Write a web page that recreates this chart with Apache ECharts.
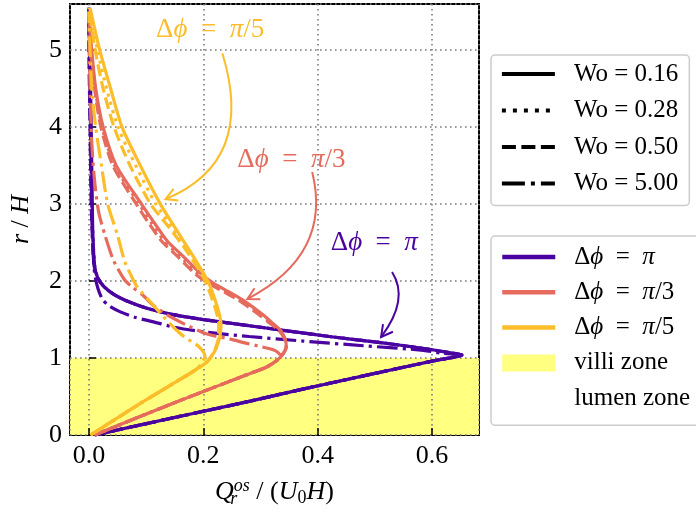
<!DOCTYPE html>
<html><head><meta charset="utf-8">
<script src="https://cdn.jsdelivr.net/npm/echarts@6/dist/echarts.min.js"></script>
<style>html,body{margin:0;padding:0;background:#fff}#c{width:696px;height:513px}</style>
</head><body><div id="c"></div>
<script>
const FONT = '"Liberation Serif","DejaVu Serif",serif';
const FS = 25, FS_TICK = 26, FS_ANN = 27;
const C_PI = '#4a03a0', C_PI3 = '#e56b5d', C_PI5 = '#fcbd2b', C_VILLI = '#ffff80';

// axis ranges / ticks
const xRange = [-0.033, 0.682];
const yRange = [0, 5.6];
const villiRange = [0, 1];

// shared lower (villi) branches
const purpleLower = [[0.010,0],[0.17,0.26],[0.282,0.44],[0.37,0.59],[0.5,0.8],[0.6,0.96],[0.652,1.04]];
const coralLower  = [[0.010,0],[0.143,0.4],[0.247,0.7],[0.282,0.8],[0.31,0.88],[0.329,0.97]];
const coralPeak   = [[0.34,1.06],[0.345,1.15]];
const yellowLower = [[0.003,0],[0.09,0.41],[0.15,0.68],[0.189,0.86]];
const yellowPeak  = [[0.205,0.94],[0.214,1.02]];

// upper branches: Δφ = π
const piWo016 = [[0.63,1.07],[0.58,1.13],[0.51,1.2],[0.42,1.28],[0.34,1.36],[0.28,1.42],[0.2,1.5],[0.143,1.57],[0.1,1.65],[0.07,1.73],[0.045,1.82],[0.026,1.93],[0.015,2.05],[0.01,2.2],[0.007,2.6],[0.006,3],[0.005,3.5],[0.004,4],[0.003,4.5],[0.002,5],[0.0,5.55]];
const piWo028 = [[0.63,1.07],[0.58,1.13],[0.51,1.2],[0.42,1.28],[0.34,1.36],[0.28,1.42],[0.2,1.5],[0.143,1.57],[0.1,1.65],[0.07,1.73],[0.045,1.82],[0.026,1.93],[0.015,2.05],[0.01,2.2],[0.007,2.6],[0.005,3],[0.004,3.5],[0.003,4],[0.002,4.5],[0.001,5],[0.0,5.55]];
const piWo050 = [[0.63,1.07],[0.58,1.13],[0.51,1.2],[0.42,1.28],[0.34,1.36],[0.28,1.42],[0.2,1.5],[0.143,1.57],[0.1,1.65],[0.07,1.73],[0.045,1.82],[0.026,1.93],[0.015,2.05],[0.009,2.2],[0.006,2.6],[0.004,3],[0.003,3.5],[0.002,4],[0.001,4.5],[0.0,5],[0.0,5.55]];
const piWo500 = [[0.62,1.06],[0.585,1.1],[0.48,1.16],[0.375,1.22],[0.28,1.28],[0.2,1.34],[0.15,1.4],[0.113,1.47],[0.08,1.53],[0.055,1.6],[0.035,1.68],[0.024,1.76],[0.016,1.9],[0.01,2.1],[0.006,2.6],[0.004,3.5],[0.002,4.5],[0.0,5.55]];

// Δφ = π/3
const pi3Wo016 = [[0.343,1.25],[0.335,1.36],[0.32,1.46],[0.305,1.56],[0.27,1.75],[0.245,1.86],[0.218,1.97],[0.195,2.1],[0.165,2.32],[0.137,2.52],[0.115,2.75],[0.092,3.0],[0.048,3.5],[0.025,4.0],[0.012,4.5],[0.005,5.0],[0.0,5.5]];
const pi3Wo028 = [[0.343,1.25],[0.334,1.36],[0.318,1.46],[0.302,1.56],[0.266,1.75],[0.24,1.86],[0.213,1.97],[0.19,2.1],[0.16,2.32],[0.132,2.52],[0.11,2.75],[0.088,3.0],[0.045,3.5],[0.023,4.0],[0.011,4.5],[0.004,5.0],[0.0,5.5]];
const pi3Wo050 = [[0.342,1.25],[0.332,1.36],[0.315,1.46],[0.298,1.56],[0.262,1.75],[0.236,1.86],[0.209,1.97],[0.185,2.1],[0.155,2.32],[0.127,2.52],[0.105,2.75],[0.083,3.0],[0.042,3.5],[0.021,4.0],[0.01,4.5],[0.003,5.0],[0.0,5.5]];
const pi3Wo500 = [[0.335,1.03],[0.325,1.1],[0.3,1.15],[0.276,1.19],[0.245,1.25],[0.218,1.29],[0.2,1.33],[0.17,1.43],[0.137,1.56],[0.11,1.7],[0.094,1.82],[0.076,1.92],[0.062,2.02],[0.043,2.27],[0.028,2.6],[0.017,2.9],[0.01,3.3],[0.005,3.8],[0.002,4.5],[0.0,5.5]];

// Δφ = π/5
const pi5Wo016 = [[0.222,1.12],[0.229,1.28],[0.231,1.43],[0.228,1.57],[0.22,1.77],[0.208,2.0],[0.18,2.35],[0.15,2.7],[0.125,3.0],[0.09,3.5],[0.058,4.0],[0.038,4.5],[0.019,5.0],[0.002,5.55]];
const pi5Wo028 = [[0.222,1.12],[0.228,1.28],[0.229,1.44],[0.225,1.6],[0.216,1.8],[0.204,2.02],[0.175,2.37],[0.145,2.7],[0.117,3.0],[0.082,3.5],[0.051,4.0],[0.031,4.5],[0.015,5.0],[0.001,5.55]];
const pi5Wo050 = [[0.221,1.12],[0.227,1.28],[0.227,1.45],[0.222,1.62],[0.212,1.84],[0.2,2.05],[0.17,2.4],[0.14,2.7],[0.108,3.0],[0.072,3.5],[0.044,4.0],[0.025,4.5],[0.011,5.0],[0.0,5.55]];
const pi5Wo500 = [[0.203,1.03],[0.192,1.15],[0.166,1.28],[0.148,1.4],[0.125,1.58],[0.105,1.75],[0.084,1.93],[0.072,2.1],[0.062,2.27],[0.05,2.6],[0.033,3.0],[0.022,3.5],[0.012,4.0],[0.005,4.5],[0.0,5.5]];

// annotations (data coordinates)
const annotTexts = [
  {frac:'/5', color:C_PI5, at:[0.212,5.26]},
  {frac:'/3', color:C_PI3, at:[0.354,3.57]},
  {frac:'',   color:C_PI,  at:[0.499,2.49]}
];
const annotArrows = [
  {color:C_PI5, p0:[0.2333,4.961], c:[0.292,3.55], p1:[0.1339,3.065]},
  {color:C_PI3, p0:[0.3904,3.416], c:[0.4262,2.344], p1:[0.277,1.766]},
  {color:C_PI,  p0:[0.530,2.117],  c:[0.5606,1.760], p1:[0.5108,1.273]}
];

const woNames = ['Wo = 0.16','Wo = 0.28','Wo = 0.50','Wo = 5.00'];
const phiNames = ['Δφ = π','Δφ = π/3','Δφ = π/5'];
const phiColors = [C_PI, C_PI3, C_PI5];
const LW = 3.2;
const dashTypes = ['solid',[3.2,5.3],[11.8,5.1],[20.5,5.1,3.2,5.1]];
const legendDash = ['solid',[4,7],[14,5.5],[23,6,4,6]];

function curve(name, color, typeIdx, data){
  return {name:name, type:'line', data:data, smooth:0.25, symbol:'none', silent:true,
    lineStyle:{color:color, width:LW, type:dashTypes[typeIdx], cap:'butt'}, z:2};
}
const curves = [
  curve('c1',C_PI,0,purpleLower.concat(piWo016)),
  curve('c2',C_PI,1,purpleLower.concat(piWo028)),
  curve('c3',C_PI,2,purpleLower.concat(piWo050)),
  curve('c4',C_PI,3,purpleLower.concat(piWo500)),
  curve('c5',C_PI3,0,coralLower.concat(coralPeak,pi3Wo016)),
  curve('c6',C_PI3,1,coralLower.concat(coralPeak,pi3Wo028)),
  curve('c7',C_PI3,2,coralLower.concat(coralPeak,pi3Wo050)),
  curve('c8',C_PI3,3,coralLower.concat(pi3Wo500)),
  curve('c9',C_PI5,0,yellowLower.concat(yellowPeak,pi5Wo016)),
  curve('c10',C_PI5,1,yellowLower.concat(yellowPeak,pi5Wo028)),
  curve('c11',C_PI5,2,yellowLower.concat(yellowPeak,pi5Wo050)),
  curve('c12',C_PI5,3,yellowLower.concat(pi5Wo500))
];
const legendDummies = woNames.map((n,i)=>({name:n,type:'line',data:[],symbol:'none',
    itemStyle:{color:'#000'}, lineStyle:{color:'#000',width:3.8,type:legendDash[i],cap:'butt'}}))
  .concat(phiNames.map((n,i)=>({name:n,type:'line',data:[],symbol:'none',
    itemStyle:{color:phiColors[i]}, lineStyle:{color:phiColors[i],width:4.5}})))
  .concat([{name:'villi zone',type:'line',data:[],symbol:'none',itemStyle:{color:C_VILLI},lineStyle:{width:0},
      markArea:{silent:true,itemStyle:{color:C_VILLI},data:[[{yAxis:villiRange[0]},{yAxis:villiRange[1]}]]}},
    {name:'lumen zone',type:'line',data:[],symbol:'none',itemStyle:{color:'rgba(0,0,0,0)'},lineStyle:{width:0}}]);

const richBase = {
  n:{fontFamily:FONT,fontSize:FS,color:'#000',lineHeight:26},
  i:{fontFamily:FONT,fontSize:FS,fontStyle:'italic',color:'#000',lineHeight:26}
};
function phiLabel(name){
  const rest = name.replace('Δφ = π','');
  return '{n|Δ}{i|ϕ}{n|  =  }{i|π}' + (rest ? '{n|' + rest + '}' : '');
}
const legendCommon = {
  orient:'vertical', backgroundColor:'#fff', borderColor:'#cccccc', borderWidth:1.5, borderRadius:4,
  itemWidth:53, itemGap:10.5, itemHeight:14,
  itemStyle:{opacity:0},
  lineStyle:{width:'inherit'},
  textStyle:{fontFamily:FONT,fontSize:FS,color:'#000',lineHeight:26,padding:[0,0,0,14], rich:richBase},
  selectedMode:false
};

const option = {
  animation:false,
  backgroundColor:'#fff',
  grid:{left:69, right:217, top:4, bottom:78, show:true, borderColor:'#000', borderWidth:2, backgroundColor:'rgba(0,0,0,0)'},
  xAxis:{type:'value', min:xRange[0], max:xRange[1], splitNumber:4, z:1.5,
    name:'{i|Q}{sub|r}{sup|os}{n| / (}{i|U}{sub0|0}{i|H}{n|)}', nameLocation:'middle', nameGap:41,
    nameTextStyle:{rich:{
      n:{fontFamily:FONT,fontSize:FS_TICK,color:'#000'},
      i:{fontFamily:FONT,fontSize:FS_TICK,fontStyle:'italic',color:'#000'},
      sub:{fontFamily:FONT,fontSize:18,fontStyle:'italic',color:'#000',padding:[14,0,0,0],width:0},
      sup:{fontFamily:FONT,fontSize:18,fontStyle:'italic',color:'#000',padding:[0,0,12,0]},
      sub0:{fontFamily:FONT,fontSize:18,color:'#000',padding:[12,0,0,0]}
    }},
    axisLine:{show:false},
    axisTick:{show:true, inside:true, length:7, lineStyle:{color:'#000',width:1.5}},
    axisLabel:{fontFamily:FONT, fontSize:FS_TICK, color:'#000', margin:8, showMinLabel:false, showMaxLabel:false,
      formatter:v=>v.toFixed(1)},
    splitLine:{show:true, lineStyle:{color:'#7a7a7a', width:1.6, type:[1.6,3.4]}}
  },
  yAxis:{type:'value', min:yRange[0], max:yRange[1], interval:1, z:1.5,
    name:'{i|r}{n| / }{i|H}', nameLocation:'middle', nameGap:36, nameRotate:90,
    nameTextStyle:{rich:{
      n:{fontFamily:FONT,fontSize:FS_TICK,color:'#000'},
      i:{fontFamily:FONT,fontSize:FS_TICK,fontStyle:'italic',color:'#000'}}},
    axisLine:{show:false},
    axisTick:{show:true, inside:true, length:7, lineStyle:{color:'#000',width:1.5}},
    axisLabel:{fontFamily:FONT, fontSize:FS_TICK, color:'#000', margin:8, showMaxLabel:false},
    splitLine:{show:true, lineStyle:{color:'#7a7a7a', width:1.6, type:[1.6,3.4]}}
  },
  legend:[
    Object.assign({}, legendCommon, {left:491, top:55, padding:[6,11,9,9], data:woNames}),
    Object.assign({}, legendCommon, {left:491, top:236, padding:[8,30,14,9], itemGap:9.3, itemHeight:17,
      data:phiNames.concat([{name:'villi zone',icon:'rect',itemStyle:{opacity:1,color:C_VILLI}},{name:'lumen zone',icon:'rect',itemStyle:{opacity:0}}]),
      formatter:name=> name.indexOf('Δφ')===0 ? phiLabel(name) : name})
  ],
  series: legendDummies.concat(curves)
};

const chart = echarts.init(document.getElementById('c'));
chart.setOption(option);

function px(p){ return chart.convertToPixel({gridIndex:0}, p); }
const gfx = [];
annotTexts.forEach(t=>{
  const p = px(t.at);
  const rich = {
    n:{fontFamily:FONT,fontSize:FS_ANN,fill:t.color},
    i:{fontFamily:FONT,fontSize:FS_ANN,fontStyle:'italic',fill:t.color}
  };
  gfx.push({type:'text', z:20, style:{x:p[0], y:p[1], align:'center', verticalAlign:'middle',
    text:'{n|Δ}{i|ϕ}{n|  =  }{i|π}' + (t.frac ? '{n|'+t.frac+'}' : ''), rich:rich, fill:t.color, font:FS_ANN+'px '+FONT}});
});
annotArrows.forEach(a=>{
  const p0 = px(a.p0), c = px(a.c), p1 = px(a.p1);
  gfx.push({type:'bezierCurve', z:20, shape:{x1:p0[0],y1:p0[1],cpx1:c[0],cpy1:c[1],x2:p1[0],y2:p1[1]},
    style:{stroke:a.color, lineWidth:2, fill:null}});
  const dx=p1[0]-c[0], dy=p1[1]-c[1], L=Math.hypot(dx,dy), ux=dx/L, uy=dy/L;
  const hl=13, ang=0.5;
  function arm(s){
    const ca=Math.cos(s*ang), sa=Math.sin(s*ang);
    return [p1[0]-hl*(ux*ca-uy*sa), p1[1]-hl*(uy*ca+ux*sa)];
  }
  gfx.push({type:'polyline', z:20, shape:{points:[arm(1),p1,arm(-1)]}, style:{stroke:a.color, lineWidth:2, fill:null}});
});
chart.setOption({graphic:gfx});
</script>
</body></html>
